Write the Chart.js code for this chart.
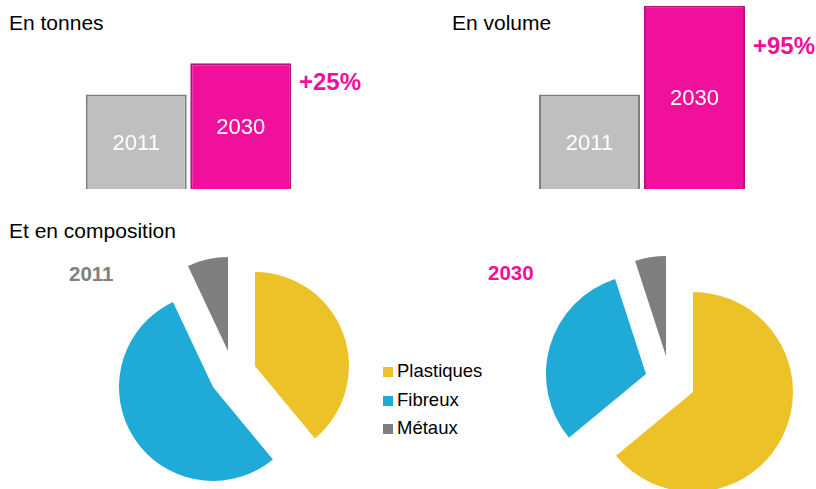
<!DOCTYPE html>
<html>
<head>
<meta charset="utf-8">
<script src="https://cdn.jsdelivr.net/npm/chart.js@4"></script>
<style>
  body { margin: 0; background: #fff; font-family: "Liberation Sans", Arial, sans-serif; }
  #page { position: relative; width: 816px; height: 489px; overflow: hidden; }
  canvas, .txt { position: absolute; }
  .txt { line-height: 1; white-space: nowrap; }
  .title { font-size: 21px; color: #000; }
  .big { font-weight: bold; font-size: 24px; color: #F0109C; }
  .year { font-weight: bold; font-size: 20.5px; }
  .leg { position: absolute; left: 383px; font-size: 18.5px; line-height: 1; color: #000; white-space: nowrap; }
  .leg span { display: inline-block; width: 10px; height: 10px; margin-right: 4px; }
</style>
</head>
<body>
<div id="page">
  <div class="txt title" style="left:9px; top:12px;">En tonnes</div>
  <div class="txt title" style="left:452px; top:12px;">En volume</div>
  <div class="txt title" style="left:9px; top:220px;">Et en composition</div>
  <div class="txt big" style="left:299px; top:70px;">+25%</div>
  <div class="txt big" style="left:753px; top:34px;">+95%</div>
  <div class="txt year" style="left:69px; top:264px; color:#808080;">2011</div>
  <div class="txt year" style="left:488px; top:263px; color:#F0109C;">2030</div>

  <canvas id="tonnes" width="209" height="189" style="left:84px; top:0px;"></canvas>
  <canvas id="volume" width="210" height="189" style="left:537px; top:0px;"></canvas>

  <div id="pies"></div>
  <div id="legend"></div>
</div>
<script>
const years = ["2011", "2030"];
const tonnes = [100, 133];
const volume = [100, 194];

const materials = ["Plastiques", "Fibreux", "Métaux"];
const compo2011 = [39, 54, 7];
const compo2030 = [64, 31, 5];

const barFill = ["#BFBFBF", "#F0109C"];
const barBorder = ["#7F7F7F", "#B8137C"];
const pieColors = ["#EDC229", "#20AAD7", "#7F7F7F"];

// white year text in the middle of each bar
const barLabels = {
  id: "barLabels",
  afterDatasetsDraw(chart) {
    const ctx = chart.ctx;
    const meta = chart.getDatasetMeta(0);
    ctx.save();
    ctx.fillStyle = "#fff";
    ctx.font = "22px 'Liberation Sans', Arial, sans-serif";
    ctx.textAlign = "center";
    ctx.textBaseline = "middle";
    meta.data.forEach((bar, i) => {
      ctx.fillText(chart.data.labels[i], bar.x, (bar.y + bar.base) / 2 + 2);
    });
    ctx.restore();
  },
};

const makeBars = function (id, values, pct) {
  new Chart(document.getElementById(id), {
    type: "bar",
    data: {
      labels: years,
      datasets: [{
        data: values,
        backgroundColor: barFill,
        borderColor: barBorder,
        borderWidth: 2,
        barPercentage: pct,
        categoryPercentage: 1,
      }],
    },
    options: {
      responsive: false,
      animation: false,
      plugins: { legend: { display: false }, tooltip: { enabled: false } },
      layout: { padding: 0 },
      scales: {
        x: { display: false },
        y: { display: false, min: 0, max: 200 },
      },
    },
    plugins: [barLabels],
  });
};

// exploded pie: one layer per slice, each pushed out along its own bisector
const makePie = function (values, cx, cy, radius, explode) {
  const total = values.reduce((a, b) => a + b, 0);
  const size = 2 * radius + 20;
  let start = 0;
  values.forEach((v, i) => {
    const mid = (start + v / 2) / total * 2 * Math.PI;
    start += v;
    const canvas = document.createElement("canvas");
    canvas.width = size;
    canvas.height = size;
    canvas.style.left = cx + Math.sin(mid) * explode - size / 2 + "px";
    canvas.style.top = cy - Math.cos(mid) * explode - size / 2 + "px";
    document.getElementById("pies").appendChild(canvas);
    new Chart(canvas, {
      type: "pie",
      data: {
        labels: materials,
        datasets: [{
          data: values,
          backgroundColor: pieColors.map((c, j) => (j === i ? c : "rgba(0,0,0,0)")),
          borderWidth: 0,
        }],
      },
      options: {
        responsive: false,
        animation: false,
        radius: radius,
        plugins: { legend: { display: false }, tooltip: { enabled: false } },
      },
    });
  });
};

makeBars("tonnes", tonnes, 0.966);
makeBars("volume", volume, 0.962);
makePie(compo2011, 233, 374, 94, 23.5);
makePie(compo2030, 670, 381, 100, 25);

const legend = document.getElementById("legend");
materials.forEach((m, i) => {
  const row = document.createElement("div");
  row.className = "leg";
  row.style.top = 362 + i * 28.5 + "px";
  row.innerHTML = '<span style="background:' + pieColors[i] + '"></span>' + m;
  legend.appendChild(row);
});
</script>
</body>
</html>
